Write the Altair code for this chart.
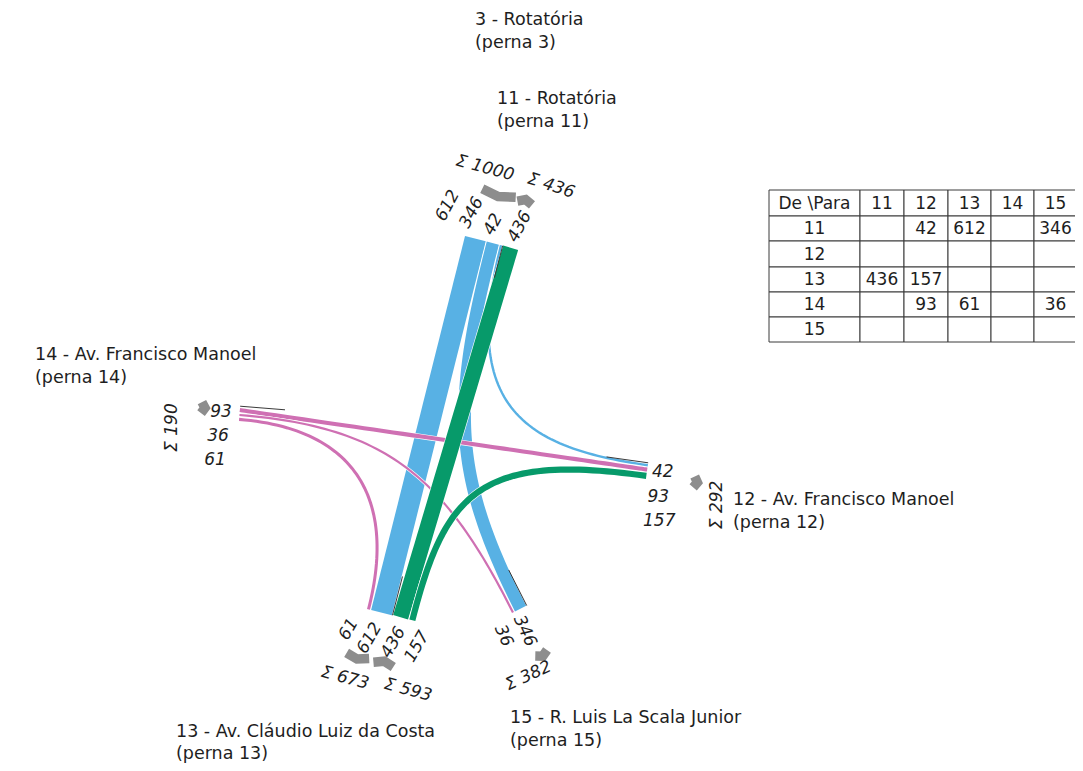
import altair as alt
import pandas as pd

# ================= DATA =================
FLOW_FROM = ["11", "11", "11", "13", "13", "14", "14", "14"]
FLOW_TO = ["13", "15", "12", "11", "12", "12", "15", "13"]
FLOW_VOL = [612, 346, 42, 436, 157, 93, 36, 61]

TABLE_HEADER = ["De \\Para", "11", "12", "13", "14", "15"]
TABLE_ROWS = ["11", "12", "13", "14", "15"]

TITLE_LINE1 = ["3 - Rotatória", "11 - Rotatória", "14 - Av. Francisco Manoel",
               "12 - Av. Francisco Manoel", "13 - Av. Cláudio Luiz da Costa",
               "15 - R. Luis La Scala Junior"]
TITLE_LINE2 = ["(perna 3)", "(perna 11)", "(perna 14)", "(perna 12)", "(perna 13)", "(perna 15)"]

# ================= LAYOUT / STYLE =================
BLUE, GREEN, PINK, GRAY, TXT = "#58b1e4", "#079a6a", "#cf70b3", "#8d8d8d", "#1e1e1e"
FONT = "DejaVu Sans"
W0, K = 1.0, 1 / 30.0          # band width = W0 + K * volume (px)

TITLE_POS = [(475, 20), (497, 99), (35, 355), (733, 500), (176, 732), (510, 718)]
TITLE_LEAD = [23, 23, 23, 23, 21.5, 23]

LEGS = {
    "11": dict(anchor=(465, 236), t=(0.97, 0.25), n=(-0.25, 0.97), gap=1.0, stub=33,
               order=["11>13", "11>15", "11>12", "|", "13>11"]),
    "13": dict(anchor=(367, 609), t=(0.971, 0.24), n=(0.25, -0.97), gap=1.2, stub=40,
               order=["14>13", "11>13", "|", "13>11", "13>12"]),
    "15": dict(anchor=(512, 613), t=(0.89, -0.45), n=(-0.45, -0.89), gap=1.2, stub=40,
               order=["14>15", "11>15", "|"]),
    "14": dict(anchor=(240, 408), t=(-0.08, 0.997), n=(0.997, 0.08), gap=1.8, stub=45,
               order=["|", "14>12", "14>15", "14>13"]),
    "12": dict(anchor=(648, 464), t=(-0.14, 0.99), n=(-0.99, -0.14), gap=1.2, stub=42,
               order=["|", "11>12", "14>12", "13>12"]),
}
# control lengths of the bezier curves (0 = straight)
CURVE = {"11>13": (0, 0), "11>15": (170, 150), "11>12": (170, 120), "14>12": (0, 0),
         "14>15": (150, 150), "14>13": (120, 110), "13>11": (0, 0), "13>12": (130, 170)}
PAINT_ORDER = ["11>13", "11>15", "11>12", "14>12", "14>15", "14>13", "13>11", "13>12"]

LABELS = {
    "11": dict(origin=(440, 220), step=(24, 7), angle=298, align="left"),
    "13": dict(origin=(354, 620), step=(23.7, 4.2), angle=300, align="right"),
    "15": dict(origin=(499, 626), step=(19, -9.7), angle=65, align="left"),
    "14": dict(origin=(221, 412), step=(-3, 24), angle=0, align="center"),
    "12": dict(origin=(652, 472), step=(-4.5, 24.5), angle=0, align="left"),
}
# leg, direction, outward distance, shift along edge, label offset, label angle
CHEVRONS = [
    ("11", "out", 50, 3, (-14, -25), 15),
    ("11", "in", 46.7, 2.4, (26.4, -17.3), 18),
    ("13", "in", 47.4, -10, (-12.8, 22.3), 15),
    ("13", "out", 50, -8.6, (24.6, 25.4), 15),
    ("15", "in", 49, 0, (-12.7, 22.8), 335),
    ("14", "out", 38.4, -3.8, (-29.5, 20), 270),
    ("12", "in", 48, 3.7, (23, 23), 270),
]
COL_EDGES = [769, 860, 904, 948, 991, 1034, 1077]
ROW_EDGES = [190, 216, 241, 267, 292, 317, 342]

# ================= GEOMETRY =================
VOL = {f"{a}>{b}": v for a, b, v in zip(FLOW_FROM, FLOW_TO, FLOW_VOL)}


def band_width(v):
    return W0 + K * v


def pt(leg, s, dn=0.0):
    L = LEGS[leg]
    ax, ay = L["anchor"]; tx, ty = L["t"]; nx, ny = L["n"]
    return (ax + tx * s + nx * dn, ay + ty * s + ny * dn)


SPANS, STUBS = {}, {}
for leg, L in LEGS.items():
    pos, spans = 0.0, {}
    for key in L["order"]:
        if key == "|":
            STUBS[leg] = pos - L["gap"] / 2 if pos > 0 else -L["gap"]
            continue
        w = band_width(VOL[key])
        spans[key] = (pos, pos + w)
        pos += w + L["gap"]
    SPANS[leg] = spans


def bezier(P0, P1, P2, P3, n=60):
    pts = []
    for i in range(n + 1):
        u = i / n
        a, b, c, d = (1 - u) ** 3, 3 * u * (1 - u) ** 2, 3 * u * u * (1 - u), u ** 3
        pts.append((a * P0[0] + b * P1[0] + c * P2[0] + d * P3[0],
                    a * P0[1] + b * P1[1] + c * P2[1] + d * P3[1]))
    return pts


X = alt.X("x:Q", scale=alt.Scale(domain=[8, 1075], nice=False, zero=False), axis=None)
Y = alt.Y("y:Q", scale=alt.Scale(domain=[8, 763], nice=False, zero=False, reverse=True), axis=None)
COLOR = alt.Color("origin:N", scale=alt.Scale(domain=["11", "13", "14"], range=[BLUE, GREEN, PINK]), legend=None)

layers = []

# flows
for key in PAINT_ORDER:
    a, b = key.split(">")
    s0 = sum(SPANS[a][key]) / 2
    s3 = sum(SPANS[b][key]) / 2
    L1, L2 = CURVE[key]
    pts = bezier(pt(a, s0), pt(a, s0, L1), pt(b, s3, L2), pt(b, s3))
    df = pd.DataFrame({"x": [p[0] for p in pts], "y": [p[1] for p in pts],
                       "i": list(range(len(pts))), "value": VOL[key], "origin": a})
    layers.append(alt.Chart(df).mark_line(color="white", strokeCap="butt").encode(
        x=X, y=Y, order="i:Q",
        size=alt.Size("value:Q", scale=alt.Scale(domain=[0, 1000],
                                                 range=[band_width(0) + 1.2, band_width(1000) + 1.2]), legend=None)))
    layers.append(alt.Chart(df).mark_line(strokeCap="butt").encode(
        x=X, y=Y, order="i:Q", color=COLOR,
        size=alt.Size("value:Q", scale=alt.Scale(domain=[0, 1000],
                                                 range=[band_width(0), band_width(1000)]), legend=None)))

# stubs (dark thin lines)
rows = []
for leg, L in LEGS.items():
    p0 = pt(leg, STUBS[leg]); p1 = pt(leg, STUBS[leg], L["stub"])
    rows += [dict(x=p0[0], y=p0[1], i=0, g=leg), dict(x=p1[0], y=p1[1], i=1, g=leg)]
layers.append(alt.Chart(pd.DataFrame(rows)).mark_line(color="#3a3a3a", strokeWidth=1).encode(
    x=X, y=Y, order="i:Q", detail="g:N"))

# flow labels at legs
for leg, L in LEGS.items():
    lab = LABELS[leg]
    keys = [k for k in L["order"] if k != "|"]
    df = pd.DataFrame({"x": [lab["origin"][0] + i * lab["step"][0] for i in range(len(keys))],
                       "y": [lab["origin"][1] + i * lab["step"][1] for i in range(len(keys))],
                       "label": [str(VOL[k]) for k in keys]})
    layers.append(alt.Chart(df).mark_text(font=FONT, fontSize=17, fontStyle="italic", color=TXT,
                                          angle=lab["angle"], align=lab["align"], baseline="middle")
                  .encode(x=X, y=Y, text="label:N"))

# chevrons and totals
for idx, (leg, direction, dist, shift, loff, lang) in enumerate(CHEVRONS):
    L = LEGS[leg]
    if direction == "out":
        keys = [k for k in SPANS[leg] if k.startswith(leg + ">")]
        sgn = 1
    else:
        keys = [k for k in SPANS[leg] if k.endswith(">" + leg)]
        sgn = -1
    total = sum(VOL[k] for k in keys)
    lo = min(SPANS[leg][k][0] for k in keys); hi = max(SPANS[leg][k][1] for k in keys)
    sc = (lo + hi) / 2 + shift
    cx, cy = pt(leg, sc, -dist)
    tx, ty = L["t"]; nx, ny = L["n"]
    w = max(11, total / 29)
    notch = 3.5
    cpts = [(cx - tx * w / 2, cy - ty * w / 2), (cx + sgn * nx * notch, cy + sgn * ny * notch),
            (cx + tx * w / 2, cy + ty * w / 2)]
    dfc = pd.DataFrame({"x": [p[0] for p in cpts], "y": [p[1] for p in cpts], "i": [0, 1, 2]})
    layers.append(alt.Chart(dfc).mark_line(color=GRAY, strokeWidth=9.5, strokeCap="butt", strokeJoin="miter")
                  .encode(x=X, y=Y, order="i:Q"))
    dft = pd.DataFrame({"x": [cx + loff[0]], "y": [cy + loff[1]], "label": [f"Σ {total}"]})
    layers.append(alt.Chart(dft).mark_text(font=FONT, fontSize=17, fontStyle="italic", color=TXT,
                                           angle=lang, align="center", baseline="middle")
                  .encode(x=X, y=Y, text="label:N"))

# leg titles
tdf = pd.DataFrame({"x": [p[0] for p in TITLE_POS] * 2,
                    "y": [p[1] for p in TITLE_POS] + [p[1] + d for p, d in zip(TITLE_POS, TITLE_LEAD)],
                    "label": TITLE_LINE1 + TITLE_LINE2})
layers.append(alt.Chart(tdf).mark_text(font=FONT, fontSize=17.5, color=TXT, align="left", baseline="middle")
              .encode(x=X, y=Y, text="label:N"))

# O/D table
cells, texts = [], []
for r in range(len(TABLE_ROWS) + 1):
    for c in range(len(TABLE_HEADER)):
        cells.append(dict(x=COL_EDGES[c], x2=COL_EDGES[c + 1], y=ROW_EDGES[r], y2=ROW_EDGES[r + 1]))
        if r == 0:
            t = TABLE_HEADER[c]
        elif c == 0:
            t = TABLE_ROWS[r - 1]
        else:
            t = str(VOL.get(f"{TABLE_ROWS[r - 1]}>{TABLE_HEADER[c]}", ""))
        if t:
            texts.append(dict(x=(COL_EDGES[c] + COL_EDGES[c + 1]) / 2,
                              y=(ROW_EDGES[r] + ROW_EDGES[r + 1]) / 2 + 0.5, label=t))
layers.append(alt.Chart(pd.DataFrame(cells)).mark_rect(fill="white", stroke="#3a3a3a", strokeWidth=1)
              .encode(x=X, x2="x2:Q", y=Y, y2="y2:Q"))
layers.append(alt.Chart(pd.DataFrame(texts)).mark_text(font=FONT, fontSize=17, color=TXT,
                                                        align="center", baseline="middle")
              .encode(x=X, y=Y, text="label:N"))

chart = (alt.layer(*layers)
         .resolve_scale(size="independent")
         .properties(width=1067, height=755, padding=0, background="white",
                     autosize=alt.AutoSizeParams(type="none"))
         .configure_view(stroke=None))

chart.save("out.html", embed_options={"renderer": "svg", "actions": False})
